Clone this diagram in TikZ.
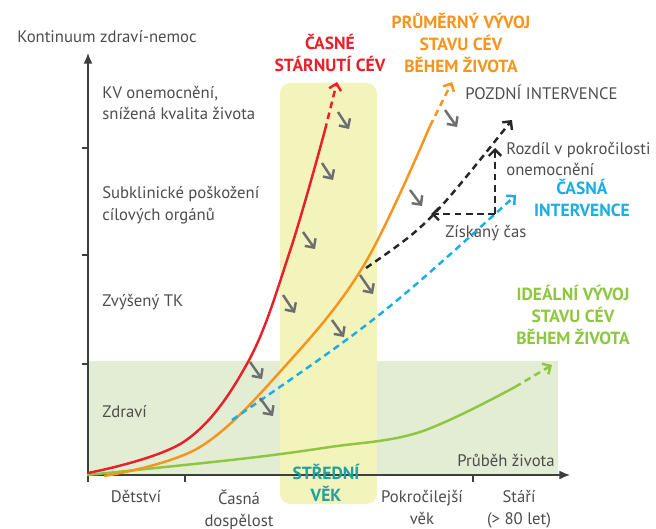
\documentclass[tikz,border=0pt]{standalone}
\usepackage{fontspec}
\setmainfont{PT Sans}
\usetikzlibrary{arrows.meta}

\definecolor{txtgray}{HTML}{4D4D4D}
\definecolor{cred}{HTML}{E8202A}
\definecolor{corange}{HTML}{F7941D}
\definecolor{cblue}{HTML}{1CADE4}
\definecolor{cgreen}{HTML}{8DC63F}
\definecolor{cteal}{HTML}{1BA39C}
\definecolor{bandgreen}{HTML}{E2EDD3}
\definecolor{bandyellow}{HTML}{F3F3BC}
\definecolor{arrgray}{HTML}{6D6E70}

\tikzset{
  lbl/.style={font=\fontsize{9.5}{12.5}\selectfont, text=txtgray, inner sep=0pt, align=left, anchor=west},
  ttl/.style={font=\fontsize{10}{12.5}\selectfont\bfseries, inner sep=0pt, align=center},
  curve/.style={line width=1.4pt},
  dashcurve/.style={line width=1.4pt, dash pattern=on 3.8pt off 2.6pt, -{Straight Barb[length=3.5pt,width=7pt]}},
  grayarrow/.style={arrgray, line width=1.4pt, -{Straight Barb[length=3.8pt,width=7.5pt]}}
}

\begin{document}
\begin{tikzpicture}[x=0.2mm, y=-0.2mm]
\useasboundingbox (0,0) rectangle (656,529);

% background bands
\fill[bandgreen](88,361) rectangle (558,475);
\fill[bandyellow, rounded corners=6pt](280,83) rectangle (377,504);

% axes
\coordinate (origin) at (88,475);
\coordinate (ytop) at (88,53);
\coordinate (xend) at (570,475);
\draw[txtgray!80!black, line width=0.7pt, -{Latex[length=6pt,width=5pt]}](origin)--(ytop);
\draw[txtgray!80!black, line width=0.7pt, -{Latex[length=6pt,width=5pt]}](origin)--(xend);
\foreach \y in {148,255,364}{
	\draw[txtgray!80!black, line width=0.7pt](82,\y)--(88,\y);
}
\foreach \x in {88,185,473}{
	\draw[txtgray!80!black, line width=0.7pt](\x,475)--(\x,482);
}

% axis texts
\node[lbl] (ylabel) at (17,37) {Kontinuum zdraví-nemoc};
\node[lbl] (kv) at (102,103) {KV onemocnění,\\snížená kvalita života};
\node[lbl] (subkl) at (102,205) {Subklinické poškožení\\cílových orgánů};
\node[lbl] (tk) at (102,302) {Zvýšený TK};
\node[lbl] (zdravi) at (102,412) {Zdraví};
\node[lbl, anchor=east] (prubeh) at (555,460) {Průběh života};
\node[lbl, anchor=north, align=center] (detstvi) at (136,490) {Dětství};
\node[lbl, anchor=north, align=center] (casna) at (239,490) {Časná\\dospělost};
\node[lbl, anchor=north, align=center] (pokroc) at (422,490) {Pokročilejší\\věk};
\node[lbl, anchor=north, align=center] (stari) at (519,490) {Stáří\\(> 80 let)};
\node[ttl, text=cteal] (stredni) at (326,483) {STŘEDNÍ\\VĚK};

% green: ideal
\draw[cgreen, curve] plot[smooth, tension=0.6] coordinates {(87,475) (240,459) (330,447) (420,432) (515,387)};
\coordinate (greenEnd) at (515,387);
\coordinate (greenTip) at (552,365);
\draw[cgreen, dashcurve](greenEnd)--(greenTip);

% orange: average
\draw[corange, curve] plot[smooth, tension=0.6] coordinates {(104,476) (200,447) (287,364) (364,265) (430,126)};
\coordinate (orangeEnd) at (430,126);
\coordinate (orangeTip) at (452,82);
\draw[corange, dashcurve](orangeEnd)--(orangeTip);

% red: early ageing
\draw[cred, curve] plot[smooth, tension=0.6] coordinates {(88,473) (185,441) (248,362) (290,251) (325,130)};
\coordinate (redEnd) at (325,130);
\coordinate (redTip) at (337,82);
\draw[cred, dashcurve](redEnd)--(redTip);

% early intervention
\coordinate (earlyStart) at (232,420);
\coordinate (earlyTip) at (516,195);
\draw[cblue, dashcurve](earlyStart) .. controls (380,318) .. (earlyTip);

% late intervention
\coordinate (lateStart) at (366,268);
\coordinate (lateTip) at (512,120);
\draw[black!85, dashcurve](lateStart) .. controls (428,225) .. (lateTip);
\coordinate (gainR) at (495,214);
\coordinate (gainL) at (431,214);
\coordinate (diffTop) at (495,148);
\draw[black!85, dashcurve](gainR)--(gainL);
\draw[black!85, dashcurve](gainR)--(diffTop);

% gray arrows
\foreach \a/\b/\c/\d in {338/112/349/129, 322/163/333/180, 303/232/315/249, 283/295/295/313,
	250/362/262/379, 260/398/273/416, 332/320/344/337, 360/275/373/294, 410/190/422/206, 445/110/457/127}{
	\draw[grayarrow](\a,\b)--(\c,\d);
}

% titles
\node[ttl, text=cred] (casne) at (330,53) {ČASNÉ\\STÁRNUTÍ CÉV};
\node[ttl, text=corange] (prumer) at (461,43) {PRŮMĚRNÝ VÝVOJ\\STAVU CÉV\\BĚHEM ŽIVOTA};
\node[lbl] (pozdni) at (465,92) {POZDNÍ INTERVENCE};
\node[lbl] (rozdil) at (506,159) {Rozdíl v pokročilosti\\onemocnění};
\node[ttl, text=cblue] (casnaint) at (582,198) {ČASNÁ\\INTERVENCE};
\node[lbl] (ziskany) at (445,233) {Získaný čas};
\node[ttl, text=cgreen] (idealni) at (573,315) {IDEÁLNÍ VÝVOJ\\STAVU CÉV\\BĚHEM ŽIVOTA};
\end{tikzpicture}
\end{document}
